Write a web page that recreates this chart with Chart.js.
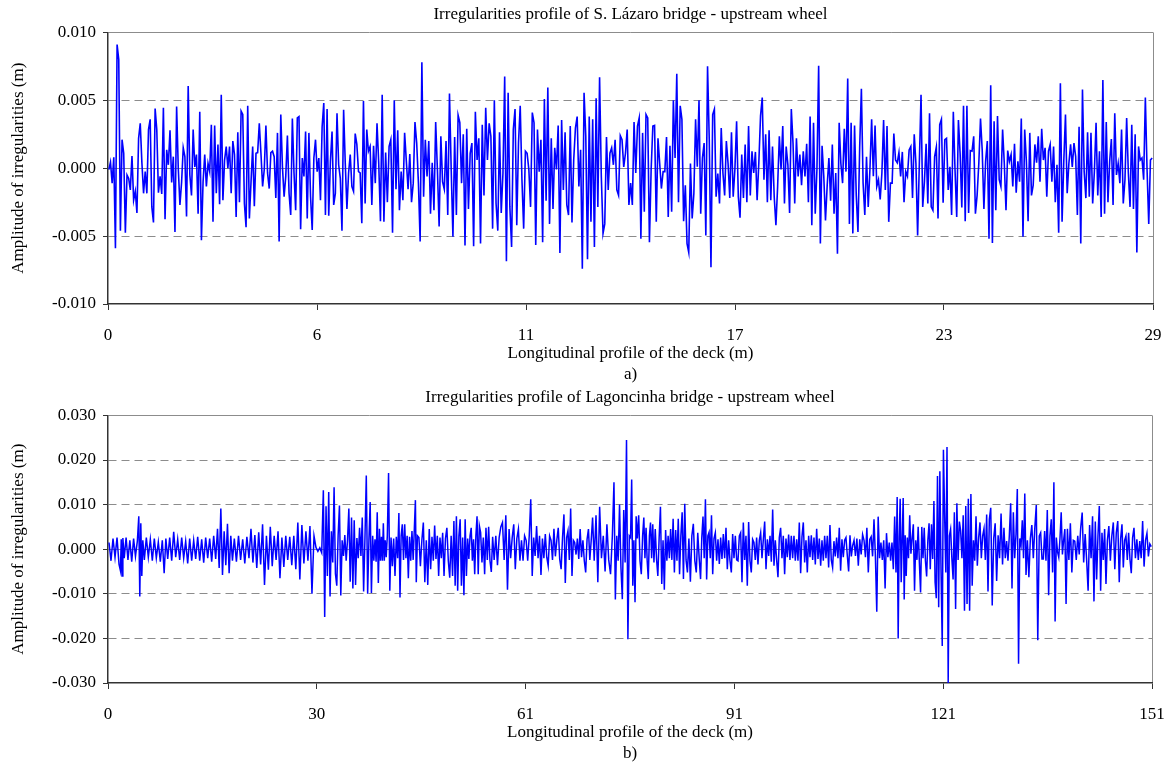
<!DOCTYPE html>
<html>
<head>
<meta charset="utf-8">
<script src="https://cdn.jsdelivr.net/npm/chart.js@4.4.1/dist/chart.umd.min.js"></script>
<style>
    body { margin: 0; background: #fff; }
    .box { position: absolute; left: 0; width: 1170px; }
</style>
</head>
<body>
<div class="box" style="top:0;height:388px"><canvas id="lazaroChart"></canvas></div>
<div class="box" style="top:380px;height:387px"><canvas id="lagoncinhaChart"></canvas></div>
<script>
// readings in mm; each group runs between two stations (m)
const lazaroStations = [0, 7.25, 14.48, 21.69, 29];
const lazaroXLabels = ['0', '6', '11', '17', '23', '29'];
const lazaroYTicks = [-0.010, -0.005, 0, 0.005, 0.010];

const lazaroA = [-0.1, 0.45, -1.1, 0.8, -5.9, 9.1, 8.0, -4.6, 2.1, 1.1, -4.75, -0.5, -0.75, -1.6, 0.9, -2.35, -1.7, -3.3, 2.2, 3.3,
    0.4, -1.85, -0.25, -1.85, 2.85, 3.6, -2.85, -4.0, 4.4, 2.85, -1.8, -0.6, -1.9, 4.45, -3.75, 1.35, 0.25, 2.8, -1.05, 0.85,
    -4.7, 4.55, 0, -2.7, -1.05, 1.5, 0.85, -3.55, 6.05, -0.5, -2.0, 2.85, 0.1, 1.0, -3.35, 4.15, -5.3, -1.0, 1.0, -1.35,
    0.35, -0.25, 3.2, -3.95, 3.15, -1.85, 1.75, -2.65, 5.4, -2.35, 0.6, 1.6, 0, 1.6, -1.85, 2.0, 1.0, -3.6, 2.65, -2.5,
    4.2, 3.95, -2.6, -4.35, 4.6, -3.7, -1.0, 1.6, -2.8, 1.1, 1.15, 3.3, 1.1, -1.35, -0.1, 3.15, -0.35, -1.5, 1.15, 1.25,
    0.85, -2.2, 2.6, -5.4, 3.95, 0.1, -2.1, -0.6, 2.4, -1.85, -3.45, 3.65, -0.35, -3.1, 3.7, 3.8, -4.5, 0.75, -0.6, 2.7,
    -3.7, 2.6, -2.1, -4.55, 0.75, 2.1, -0.25, 0.75, -2.35, 3.05, 4.8, -3.45, 4.35, -3.5, 0.5, 2.7, -2.7, -1.85, 4.05, 0.25,
    -0.75, -4.6, 4.3, 0.35, -3.0, -0.35, 1.0, -1.35, -1.7, 2.55, 1.75, -0.25, -0.35, -4.05, 4.95, -2.6, 2.85, 1.25];
const lazaroB = [1.6, -2.7, 1.65, -1.1, 3.3, 0.35, -3.9, 5.4, -3.95, 1.15, -2.5, 1.6, 2.1, -4.75, 5.0, -1.55, 2.8, -3.1, -0.25, -2.35,
    2.6, 0.5, -1.55, 1.05, -2.5, -1.1, 3.4, 1.85, -1.1, -5.4, 7.8, -2.1, 2.1, -0.6, 2.0, -3.35, 0.4, -3.1, 3.4, -0.1,
    -4.3, 2.35, -1.0, -1.55, 2.0, -3.45, 5.5, -0.1, -5.05, 2.3, -3.45, 3.9, 3.35, -1.1, 2.5, -5.7, 2.9, -3.0, 1.1, 1.85,
    -5.75, 4.15, 0.6, 2.2, -5.55, 3.2, -2.0, 4.45, 0.6, 3.3, 2.35, -4.45, 5.0, -2.6, -4.6, 2.65, -3.3, -0.35, 6.75, -6.85,
    5.55, -2.85, -5.8, 2.85, 4.35, -4.2, 1.85, 4.6, -0.85, -4.45, 1.25, 1.1, -0.1, -2.85, 4.1, 3.35, -5.65, 2.85, -0.25, 2.1,
    -5.45, 5.1, -2.4, 5.95, -4.1, 2.2, -3.0, 1.5, -0.1, 3.15, -6.25, 3.55, -1.6, 2.65, -2.7, -3.45, 3.1, -4.0, 0.6, 2.95,
    3.8, -1.35, 1.35, -7.4, 5.55, 2.35, -6.7, 3.8, -3.95, 3.6, -5.8, 5.15, -2.85, 6.7, -0.6, -4.8, -4.1, 2.3, -1.6, 1.1,
    1.5, 0.25, 2.1, -1.6, -2.0, 2.4, 2.1, 0.1, 1.1, 2.85, -2.7];
const lazaroC = [-1.1, -2.7, 3.4, -0.35, 3.1, 3.7, -5.2, 2.6, -3.2, 3.95, 3.7, -5.45, -0.1, 3.1, 3.15, -3.95, 2.2, 0.35, -1.5, -0.25,
    -0.25, 2.3, -3.6, 1.65, -3.2, 5.0, 0.75, 6.95, -2.5, 4.6, 3.6, -3.9, -1.25, -5.55, -6.2, 0.35, -3.7, -1.85, 3.6, 0.1,
    5.0, -3.35, 0.75, 1.85, -4.95, 7.5, 2.1, -7.3, 3.95, 4.35, -2.1, -0.4, -2.6, 2.95, -0.35, -2.0, 2.0, 0.35, -2.2, 2.65,
    -2.1, -0.1, 3.45, -2.1, -3.65, 1.0, -2.2, 1.75, -2.5, 3.1, -2.0, 1.25, -0.35, 1.2, -2.35, 0.4, 3.85, 5.2, -0.85, 2.5,
    -2.5, 2.8, -2.35, 1.6, -2.1, -4.2, -1.35, 2.35, -0.1, 3.1, -2.6, 1.6, 0.25, -3.3, 4.35, 1.85, -2.6, 2.2, -0.6, 1.0,
    -1.25, 1.25, -0.6, 1.8, -2.5, 3.8, -4.2, 3.35, -3.35, -0.1, 7.55, -5.55, 1.65, -0.6, -3.85, -1.25, 0.75, -2.4, 1.75, -3.35,
    -0.35, -6.3, 3.35, 0.35, -1.1, 2.9, -0.25, 6.6, -4.1, 3.35, -4.8, 3.15, -2.0, -4.7, 1.5, 5.85, -1.1, -3.45, 0.85, -2.85,
    -0.1, 3.6, -0.6, 3.15, -1.35, -0.85, -2.3, -0.35, 3.55, -1.6, 3.1, -3.95];
const lazaroD = [-1.1, -1.1, 2.55, 0.6, 0.4, 1.15, -0.6, 1.2, -2.5, -0.25, -0.6, 1.35, 1.6, -2.2, 2.5, 0.35, -4.95, 0.35, 5.4, -2.85,
    -1.0, 1.8, -2.6, 4.05, -2.85, -3.1, 0.85, 1.55, -3.7, 3.2, 3.6, -2.55, 2.1, 2.2, -1.6, 0.1, -3.45, 4.15, -0.1, -3.6,
    3.55, 1.1, -2.9, 4.6, -3.9, 4.6, -3.3, 1.3, 1.25, 2.35, -3.35, -2.0, 0.35, 3.65, 1.35, -3.0, 0.5, 2.0, -5.2, 6.1,
    -5.5, 3.45, -3.1, 3.85, -0.85, -1.35, 2.85, 0.35, -3.1, 1.3, 0.5, 1.0, -1.35, 1.8, -1.8, 0.5, -1.0, 3.65, -5.05, 2.85,
    0.5, -3.9, 2.6, -2.0, -1.25, 1.75, 0.4, 2.35, -1.0, 2.9, 0.6, 1.5, -2.1, 1.25, 1.75, -1.0, 1.6, -2.5, 0.25, -4.75,
    6.25, -3.95, 0.5, 3.95, -1.85, 0.35, 1.75, 0.1, 1.85, 0.85, -3.45, 3.05, -5.55, 5.8, -0.25, -2.2, 2.65, -2.1, 2.6, -2.6,
    -0.25, 3.35, -2.0, 1.25, -3.6, 6.5, -3.35, 3.4, -2.5, 0.5, 2.15, -2.7, 4.05, -0.5, 0.35, -1.1, 2.85, -2.6, -0.85, 3.7,
    -0.35, -2.85, 3.2, -3.0, 2.5, -6.2, 1.6, 0.6, 0.75, -0.85, 5.2, -0.1, -4.1, 0.6, 0.75];

const lagoncinhaStations = [
    0, 1.74, 2.21, 4.38, 5.11, 8.0, 8.49, 11.38, 15.72, 18.12, 20.54, 25.85, 29.94, 31.05,
    37.65, 38.37, 38.86, 39.34, 40.31, 41.03, 41.99, 42.48, 44.40, 44.65, 46.57, 48.50, 49.94, 52.11, 53.80, 55.73,
    57.90, 61.04, 62.73, 65.85, 67.79, 70.19, 73.08,
    75.50, 76.47, 77.42, 78.87, 80.56, 82.01, 83.70, 85.62, 87.55, 89.48, 91.41, 93.33, 95.27, 97.19, 99.12, 101.05,
    102.98, 104.90, 107.80, 110.69,
    113.10, 114.07, 115.52, 117.44, 119.37, 121.78, 123.23, 125.64, 127.57, 129.49, 131.43, 132.87, 134.80, 136.72,
    138.66, 140.58, 142.51, 144.44, 146.37, 148.29, 151
];
const lagoncinhaXLabels = ['0', '30', '61', '91', '121', '151'];
const lagoncinhaYTicks = [-0.030, -0.020, -0.010, 0, 0.010, 0.020, 0.030];

const lagoncinhaReadings = [
    [1.5, -2.6, 2.4, -1.8, 2.6, -3.4],
    [-4.8, 2.2, -6.0, 2.5],
    [-2.0, 2.6, -2.4, 2.0, -2.8, 2.4, -1.6, 1.8],
    [7.4, -10.6, 5.8, -6.0, 2.0],
    [-2.4, 2.6, -1.8, 2.2, -2.6, 2.4, -2.0, 1.6, -2.8, 2.0],
    [-5.4, 2.4],
    [-2.2, 2.6, -2.6, 3.9, -1.8, 2.2, -2.4, 2.6, -2.0, 1.8],
    [-3.2, 2.4, -2.6, 2.0, -2.2, 2.8, -2.6, 2.2, -3.0, 2.6, -2.0, 2.4, -2.8, 3.0, -2.2],
    [4.6, -4.2, 9.1, -5.8, 4.0, -3.6, 5.7, -5.4, 3.0, -2.6],
    [2.4, -2.8, 3.0, -2.4, 2.2, -3.2, 2.8, -2.0],
    [4.6, -3.0, 3.2, -4.2, 3.8, -3.4, 5.6, -8.0, 3.0, -4.6, 5.0, -3.8, 3.0, -2.4, 4.0, -6.5, 2.6, -4.0, 3.0],
    [-2.4, 2.8, -3.6, 3.0, -4.5, 6.0, -6.8, 5.4, -3.2, 4.0, -2.6, 5.2, -10.0, 3.0],
    [0.4, -0.5, 0.3, -0.8],
    [13.2, -15.2, 9.6, -6.0, 12.8, -10.6, 4.0, -3.0, 13.9, -5.5, -8.2, 3.0, 9.8, -10.4, 2.0, -1.5, 3.2, -2.6, 2.0, 9.1,
        -7.3, 7.1, -8.8, 6.5, -8.0, 2.5, -2.0, 4.8, -1.5, 7.1, -9.5, 2.4, 16.5, -10.0],
    [2.0, 10.6, -9.8, 3.0],
    [-2.6, 2.2, -2.8],
    [8.3, -7.6, 4.6],
    [-2.6, 2.8, -2.6, 5.8, -2.6, 2.0, -1.8],
    [3.0, 17.1, -9.3, 2.6],
    [-3.8, 2.4, -6.0, 2.8, -2.0],
    [8.1, -10.8, 3.0],
    [5.6, -2.4, 5.6, -2.0, 3.0, -6.5, 2.8, -2.6, 4.1, -2.4, 4.8],
    [11.0, -7.4],
    [3.0, 2.6, -3.8, 2.0, 6.0, -7.4, 2.0, -8.0, 4.5],
    [-4.5, 2.8, -2.6, 5.3, -2.2, 3.0, -6.0, 2.6, -2.0, 3.7],
    [-6.0, 2.4, 4.8, -2.6, -6.4, 3.0, -6.0],
    [6.3, -8.2, 7.4, -9.3, 3.0, 6.7, -8.2, 2.6, -10.3, 6.7, -6.0, 2.4],
    [-2.2, 3.0, 4.8, -2.6, 2.2, -5.6, 3.0, 7.4, -5.6, 5.2],
    [3.7, -3.0, 2.6, -5.6, 4.8, -2.4, 5.0, -2.6, -5.1, 2.8],
    [-2.4, 3.0, -3.6, 2.6, 5.0, 6.0, -2.4, 7.6, -9.1],
    [4.5, -2.0, 2.6, 5.6, -4.5, 2.4, 4.5, -2.6, 2.0, -2.6, 3.0, 2.0, -2.6, 3.0],
    [11.2, -6.0, 2.6, -1.5, 5.2, -2.0, 3.0, -5.8],
    [2.4, -2.0, 3.4, -1.8, -3.7, 3.0, 2.0, -2.4, 4.6, -1.6, 2.0, 4.8, -2.2, -4.5, 2.8],
    [7.8, -7.6, 2.6, 4.1, -2.4, 9.1, -6.0, 2.0, 1.5, -1.2],
    [2.4, -2.2, 4.5, -1.8, 2.0, -2.6, -5.2, 2.2, 4.5, -2.4, 2.0, 7.1],
    [-2.6, 7.6, -7.4, 9.5, -2.0, 3.0, -5.0, 5.6, -2.4, -5.6, 3.0],
    [15.0, -11.3, 3.0, -2.6, 10.0, -4.0, -11.2, 8.8, -3.0, 24.5, -20.2, 3.0],
    [2.6, 15.6, -8.2, 2.0, -11.9, 7.4],
    [2.4, 7.6, -2.6, -5.6, 3.0],
    [7.1, -2.0, 4.8, -2.6, -6.7, 3.0, 6.0, -2.0, 5.6],
    [-3.0, 4.5, -2.2, -6.0, 2.6, 9.5, -7.8, 2.0, -9.1],
    [4.3, -2.6, 3.0, -2.0, 4.5, -2.4, 6.8, -5.2],
    [4.3, -2.6, 6.8, -5.6, 3.0, 8.3, -6.7, 10.2, -2.4],
    [-5.2, 2.4, -7.3, 3.0, 5.7, -2.6, -5.2, 3.7, -2.2],
    [-6.7, 2.6, 7.3, -2.0, 11.2, -6.8, 3.0, 3.8, -2.0, 7.6, -5.6],
    [2.4, 3.7, -2.6, 2.2, -3.3, 2.6, -2.2, 3.4, -2.0, 4.8],
    [-4.5, 2.0, -2.6, -5.2, 3.4, -2.0, 3.0, -2.4, -2.6, 3.0],
    [3.7, -7.4, 6.0, -2.4, 3.0, -8.2, 6.1, -2.6, -5.2, 2.2],
    [1.5, -2.4, 2.6, -3.4, 2.0, 3.7, -2.0, 2.2, 6.2, -4.5],
    [2.2, -1.5, 3.0, -2.8, 8.9, -3.7, 2.0, -2.4, -6.3, 2.6],
    [4.8, -2.0, 3.0, -5.6, 2.4, -1.8, 3.3, -2.4, 3.0, -2.0],
    [3.0, -2.6, 2.2, -2.6, 6.0, -5.4, 2.8, 6.0, -3.0, 2.0],
    [-5.2, 3.0, -1.8, 3.1, -2.4, 2.6, -3.4, 4.6, -2.2, 2.4],
    [-3.7, 2.0, -2.6, 3.0, -2.0, 3.0, -4.1, 5.4, -2.4, -4.1],
    [1.8, -1.6, 2.6, -2.0, 4.8, -4.8, 2.2, -1.8, 2.0, 2.6, -1.4, -5.0, 3.1, -1.6, 0.8],
    [2.0, -1.5, 2.4, -3.7, 2.2, -1.2, 3.3, 2.0, -1.8, 4.8, -5.2, 2.2, 2.8, -1.6],
    [6.7, -1.5, -14.0, 7.3, -2.0, 1.5, -2.4, 2.0, -8.8, 3.6, -1.8, 1.5],
    [-2.6, 1.5, -4.5, 7.3, -5.2],
    [11.7, -20.0, 2.6, 11.3, -7.4, 2.0, 11.5, -11.3, 3.1, -6.0],
    [2.6, -2.0, 7.6, -1.0, 2.4, 5.6, -9.3, 2.0, -2.4, 5.0, -3.0],
    [-9.7, 5.0, -2.0, 4.8, -2.6, -6.1, 2.0, 5.8, -4.5, 5.6, -2.2],
    [10.8, -7.4, -11.0, 16.4, -13.0, 17.5, -5.0, -21.7, 22.3, 7.6, -5.2, 22.9, -30.0, 3.0],
    [4.5, -2.0, -6.8, 8.3, -13.4, 10.3, -2.4, 6.2],
    [4.1, -2.0, 7.6, -13.8, 9.7, -12.3, 11.3, -13.8, 12.4, -8.2, 2.0, -2.6, 7.4],
    [-3.7, 2.6, 6.0, -2.0, 3.0, 4.6, -2.4, 7.8, -9.5, 6.7],
    [9.3, -12.6, 2.4, 5.8, -7.1, 3.1, -2.0, 8.0, -3.4],
    [4.8, -2.0, 1.8, -2.6, 3.0, 10.3, -8.8, 8.3, -2.0, 3.4],
    [13.5, -25.7, 2.4, 0.9, 6.5, -2.0, 12.5, -5.8],
    [2.0, -6.3, 2.4, 5.4, -2.0, 4.8, 9.9, -20.4, 3.0],
    [3.7, -2.2, -2.2, 4.1, -2.6, 8.8, -10.3, 3.0, 6.7, -5.2],
    [15.0, -16.2, 2.6, -0.6, -1.8, 2.4, 8.3, -1.2, 2.0, 4.5, -12.3],
    [4.6, -2.4, 5.8, -5.2, 2.0, 1.8, -2.4, 3.0, -1.2],
    [4.8, 8.2, -3.0, 3.4, -2.4, -9.3, 5.4, -2.0, 7.4],
    [-11.7, 6.2, -6.8, 3.0, 9.7, -9.3, 3.7, -2.4, 4.5, -7.8],
    [2.0, 5.2, -2.6, 3.0, 6.0, -4.5, 3.7, 6.3, -7.4],
    [2.4, 5.6, -4.1, 2.0, 3.0, -2.4, 3.7, -2.2, -5.4, 2.6],
    [4.8, -2.0, 2.2, -2.4, 1.8, -2.0, 6.3, -3.9, 2.0, 3.6, -1.6, 1.2, 0.6]
];

const SERIF = "'Liberation Serif', 'Times New Roman', serif";

function toPoints(groups, stations) {
    const pts = [];
    groups.forEach((vals, k) => {
        const a = stations[k];
        const b = stations[k + 1];
        vals.forEach((v, i) => {
            pts.push({ x: a + (b - a) * (i + 0.5) / vals.length, y: v / 1000 });
        });
    });
    return pts;
}

function profileChart(canvasId, cfg) {
    const font = { family: SERIF, size: 17, weight: 'normal' };
    const yMin = cfg.yTicks[0];
    const yMax = cfg.yTicks[cfg.yTicks.length - 1];
    const xMax = cfg.stations[cfg.stations.length - 1];
    const lastX = cfg.xLabels.length - 1;
    const isEdge = (v) => Math.abs(v - yMin) < 1e-9 || Math.abs(v - yMax) < 1e-9;

    return new Chart(document.getElementById(canvasId), {
        type: 'line',
        data: {
            datasets: [{
                data: toPoints(cfg.groups, cfg.stations),
                borderColor: '#0000ff',
                borderWidth: cfg.lineWidth,
                pointRadius: 0,
                tension: 0,
                fill: false
            }]
        },
        options: {
            responsive: true,
            maintainAspectRatio: false,
            animation: false,
            layout: { padding: { left: 0, right: cfg.rightPad, top: 0, bottom: 0 } },
            plugins: {
                legend: { display: false },
                tooltip: { enabled: false },
                title: {
                    display: true,
                    text: cfg.title,
                    fullSize: false,
                    color: '#000',
                    font: font,
                    padding: cfg.titlePadding
                },
                subtitle: {
                    display: true,
                    text: cfg.tag,
                    position: 'bottom',
                    fullSize: false,
                    color: '#000',
                    font: font,
                    padding: { top: 0, bottom: 3 }
                }
            },
            scales: {
                x: {
                    type: 'linear',
                    min: 0,
                    max: xMax,
                    afterBuildTicks: (axis) => {
                        axis.ticks = cfg.xLabels.map((_, i) => ({ value: i * xMax / lastX }));
                    },
                    afterFit: (axis) => {
                        axis.height = 60.6;
                        axis.paddingLeft = 0;
                        axis.paddingRight = 0;
                    },
                    ticks: {
                        autoSkip: false,
                        maxRotation: 0,
                        padding: 15,
                        color: '#000',
                        font: font,
                        callback: (value, index) => cfg.xLabels[index]
                    },
                    grid: {
                        color: (c) => c.index === lastX ? '#8c8c8c' : 'rgba(0,0,0,0)',
                        tickColor: '#333',
                        tickLength: 6
                    },
                    border: { color: '#333', width: 1.5 },
                    title: {
                        display: true,
                        text: 'Longitudinal profile of the deck (m)',
                        color: '#000',
                        font: font,
                        padding: { top: 0, bottom: 1 }
                    }
                },
                y: {
                    min: yMin,
                    max: yMax,
                    afterBuildTicks: (axis) => {
                        axis.ticks = cfg.yTicks.map((v) => ({ value: v }));
                    },
                    afterFit: (axis) => { axis.width = 108; },
                    ticks: {
                        padding: 7,
                        color: '#000',
                        font: font,
                        callback: (value) => value.toFixed(3)
                    },
                    grid: {
                        color: (c) => (c.tick && Math.abs(c.tick.value - yMin) < 1e-9) ? 'rgba(0,0,0,0)' : '#8c8c8c',
                        tickColor: '#333',
                        tickLength: 5
                    },
                    border: {
                        color: '#333',
                        width: 1.5,
                        dash: (c) => (c.tick && Math.abs(c.tick.value) > 1e-9 && !isEdge(c.tick.value)) ? [8, 5] : []
                    },
                    title: {
                        display: true,
                        text: 'Amplitude of irregularities (m)',
                        color: '#000',
                        font: font,
                        padding: { top: 8, bottom: 0 }
                    }
                }
            }
        }
    });
}

profileChart('lazaroChart', {
    title: 'Irregularities profile of S. Lázaro bridge - upstream wheel',
    tag: 'a)',
    groups: [lazaroA, lazaroB, lazaroC, lazaroD],
    stations: lazaroStations,
    xLabels: lazaroXLabels,
    yTicks: lazaroYTicks,
    lineWidth: 1.6,
    rightPad: 17,
    titlePadding: { top: 4, bottom: 8 }
});

profileChart('lagoncinhaChart', {
    title: 'Irregularities profile of Lagoncinha bridge - upstream wheel',
    tag: 'b)',
    groups: lagoncinhaReadings,
    stations: lagoncinhaStations,
    xLabels: lagoncinhaXLabels,
    yTicks: lagoncinhaYTicks,
    lineWidth: 1.5,
    rightPad: 18,
    titlePadding: { top: 7, bottom: 8 }
});
</script>
</body>
</html>
